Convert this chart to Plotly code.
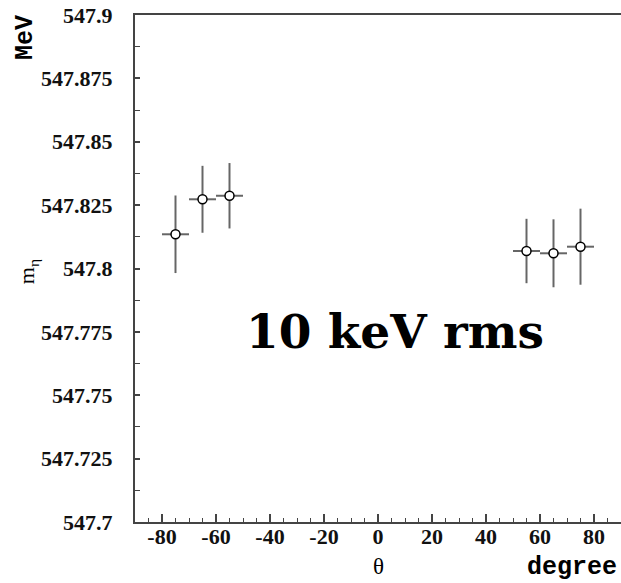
import plotly.graph_objects as go

theta = [-75, -65, -55, 55, 65, 75]
theta_err = [5, 5, 5, 5, 5, 5]
mass = [547.8135, 547.8273, 547.8287, 547.8069, 547.8060, 547.8086]
mass_err = [0.0153, 0.0132, 0.0129, 0.0127, 0.0134, 0.0150]

x_ticks = [-80, -60, -40, -20, 0, 20, 40, 60, 80]
y_ticks = [547.7, 547.725, 547.75, 547.775, 547.8, 547.825, 547.85, 547.875, 547.9]
y_ticktext = ["547.7", "547.725", "547.75", "547.775", "547.8", "547.825", "547.85", "547.875", "547.9"]

fig = go.Figure()
fig.add_trace(go.Scatter(
    x=theta, y=mass, mode="markers",
    marker=dict(symbol="circle", size=9, color="white", line=dict(color="black", width=1.5)),
    error_x=dict(type="data", array=theta_err, color="#666666", thickness=2, width=0),
    error_y=dict(type="data", array=mass_err, color="#666666", thickness=2, width=0),
    showlegend=False,
))

axis_color = "#444444"
serif = "Liberation Serif"
tickfont = dict(family=serif, size=22, color="#111111", weight="bold")

fig.update_layout(
    template="none",
    font=dict(family=serif, color="black"),
    width=621, height=583,
    margin=dict(l=135, r=0, t=15, b=61),
    paper_bgcolor="white", plot_bgcolor="white",
    xaxis=dict(
        range=[-90, 90], tickmode="array", tickvals=x_ticks, ticktext=[str(v) for v in x_ticks],
        ticks="inside", ticklen=8, tickwidth=1.5, tickcolor=axis_color,
        minor=dict(dtick=5, tick0=0, ticks="inside", ticklen=4, tickcolor=axis_color, tickwidth=1.2),
        showline=True, linecolor=axis_color, linewidth=2, mirror=True,
        showgrid=False, zeroline=False, tickfont=tickfont, ticklabelstandoff=-6,
    ),
    yaxis=dict(
        range=[547.7, 547.9], tickmode="array", tickvals=y_ticks, ticktext=y_ticktext,
        ticks="inside", ticklen=5, tickwidth=1.5, tickcolor=axis_color,
        minor=dict(dtick=0.0125, tick0=547.7, ticks="inside", ticklen=5, tickcolor=axis_color, tickwidth=1.2),
        showline=True, linecolor=axis_color, linewidth=2, mirror=False,
        showgrid=False, zeroline=False, tickfont=tickfont, ticklabelstandoff=16,
    ),
)

fig.add_annotation(text="10 keV rms", xref="paper", yref="paper", x=0.535, y=0.375,
                   showarrow=False, xanchor="center", yanchor="middle",
                   font=dict(family="DejaVu Serif", size=47, color="black", weight="bold"))
fig.add_annotation(text="MeV", xref="paper", yref="paper", x=-0.2263, y=0.9546,
                   showarrow=False, xanchor="center", yanchor="middle", textangle=-90,
                   font=dict(family="Liberation Mono", size=25, color="black", weight="bold"))
fig.add_annotation(text="m<sub>η</sub>", xref="paper", yref="paper", x=-0.22, y=0.493,
                   showarrow=False, xanchor="center", yanchor="middle", textangle=-90,
                   font=dict(family=serif, size=22, color="black"))
fig.add_annotation(text="θ", xref="paper", yref="paper", x=0.5, y=-0.0868,
                   showarrow=False, xanchor="center", yanchor="middle",
                   font=dict(family=serif, size=23, color="black"))
fig.add_annotation(text="degree", xref="paper", yref="paper", x=0.899, y=-0.0888,
                   showarrow=False, xanchor="center", yanchor="middle",
                   font=dict(family="Liberation Mono", size=25, color="black", weight="bold"))

fig.write_html("out.html")
